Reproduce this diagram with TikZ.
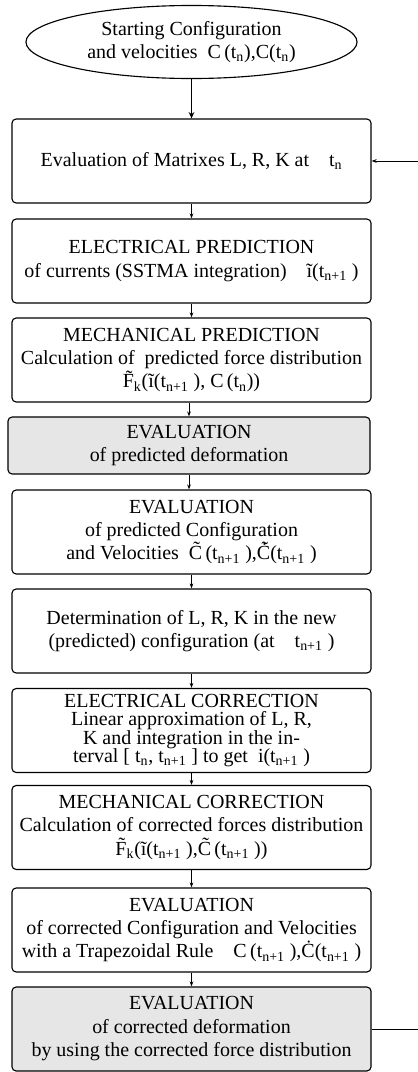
\documentclass[tikz,border=0pt]{standalone}
\usepackage{fontspec}
\setmainfont{Liberation Serif}
\usepackage{tikz}
\usetikzlibrary{arrows.meta}
\usetikzlibrary{shapes.geometric}

\definecolor{deformgray}{HTML}{E6E6E6}
\newcommand{\tsub}[1]{t\textsubscript{#1}}

\tikzset{
  stage/.style={draw, rounded corners=3pt, line width=0.8pt,
    minimum width=8.975cm, minimum height=2.1cm, inner sep=1pt,
    align=center, font=\fontsize{14.2}{16.7}\selectfont},
  deform/.style={stage, fill=deformgray},
  flow/.style={-{Stealth[length=3.6pt,width=2.6pt]}, line width=0.6pt},
}

\begin{document}
\begin{tikzpicture}[x=0.025cm, y=-0.025cm]
    \useasboundingbox (0,0) rectangle (418,1072);

    \node[draw, ellipse, line width=0.8pt, minimum width=8.275cm, minimum height=1.825cm,
      inner sep=0pt, align=center, font=\fontsize{14.2}{16.7}\selectfont]
      (start) at (191.5,42) {Starting Configuration\\and velocities\ \ C\,(\tsub{n}),C(\tsub{n})};

    \node[stage] (matr) at (191.5,161) {Evaluation of Matrixes L, R, K at\quad \tsub{n}};
    \node[stage] (epred) at (191.5,261) {ELECTRICAL PREDICTION\\of currents (SSTMA integration)\quad \~{i}(\tsub{n+1} )};
    \node[stage] (mpred) at (191.5,360) {MECHANICAL PREDICTION\\Calculation of\ \ predicted force distribution\\\~{F}\textsubscript{k}(\~{i}(\tsub{n+1} ), C\,(\tsub{n}))};
    \node[deform, minimum width=9.05cm, minimum height=1.425cm] (pdef) at (189,445.5) {EVALUATION\\of predicted deformation};
    \node[stage] (pconf) at (191.5,532) {EVALUATION\\of predicted Configuration\\and Velocities\ \ \~{C}\,(\tsub{n+1} ),\.{\~{C}}(\tsub{n+1} )};
    \node[stage] (lrk) at (191.5,631) {Determination of L, R, K in the new\\(predicted) configuration (at\quad \tsub{n+1} )};
    \node[stage, font=\fontsize{14.2}{13.2}\selectfont] (ecorr) at (191.5,730.5) {ELECTRICAL CORRECTION\\Linear approximation of L, R,\\K and integration in the in-\\terval [ \tsub{n}, \tsub{n+1} ] to get\ \ i(\tsub{n+1} )};
    \node[stage] (mcorr) at (191.5,827.5) {MECHANICAL CORRECTION\\Calculation of corrected forces distribution\\\~{F}\textsubscript{k}(\~{i}(\tsub{n+1} ),\~{C}\,(\tsub{n+1} ))};
    \node[stage] (cconf) at (191.5,930) {EVALUATION\\of corrected Configuration and Velocities\\with a Trapezoidal Rule\quad C\,(\tsub{n+1} ),\.{C}(\tsub{n+1} )};
    \node[deform] (cdef) at (191.5,1029) {EVALUATION\\of corrected deformation\\by using the corrected force distribution};

    \coordinate (backout) at (418,1029);
    \coordinate (backin) at (418,161);

    \draw[-{Stealth[length=4.5pt,width=4pt]}, line width=1.3pt] (start) -- (matr);
    \draw[flow] (matr) -- (epred);
    \draw[flow] (epred) -- (mpred);
    \draw[flow] (pdef.north |- mpred.south) -- (pdef.north);
    \draw[flow] (pdef.south) -- (pdef.south |- pconf.north);
    \draw[flow] (pconf) -- (lrk);
    \draw[flow] (lrk) -- (ecorr);
    \draw[flow] (ecorr) -- (mcorr);
    \draw[flow] (mcorr) -- (cconf);
    \draw[flow] (cconf) -- (cdef);

    \draw[line width=0.6pt] (cdef.east) -- (backout);
    \draw[flow] (backin) -- (matr.east);
  \end{tikzpicture}
\end{document}
